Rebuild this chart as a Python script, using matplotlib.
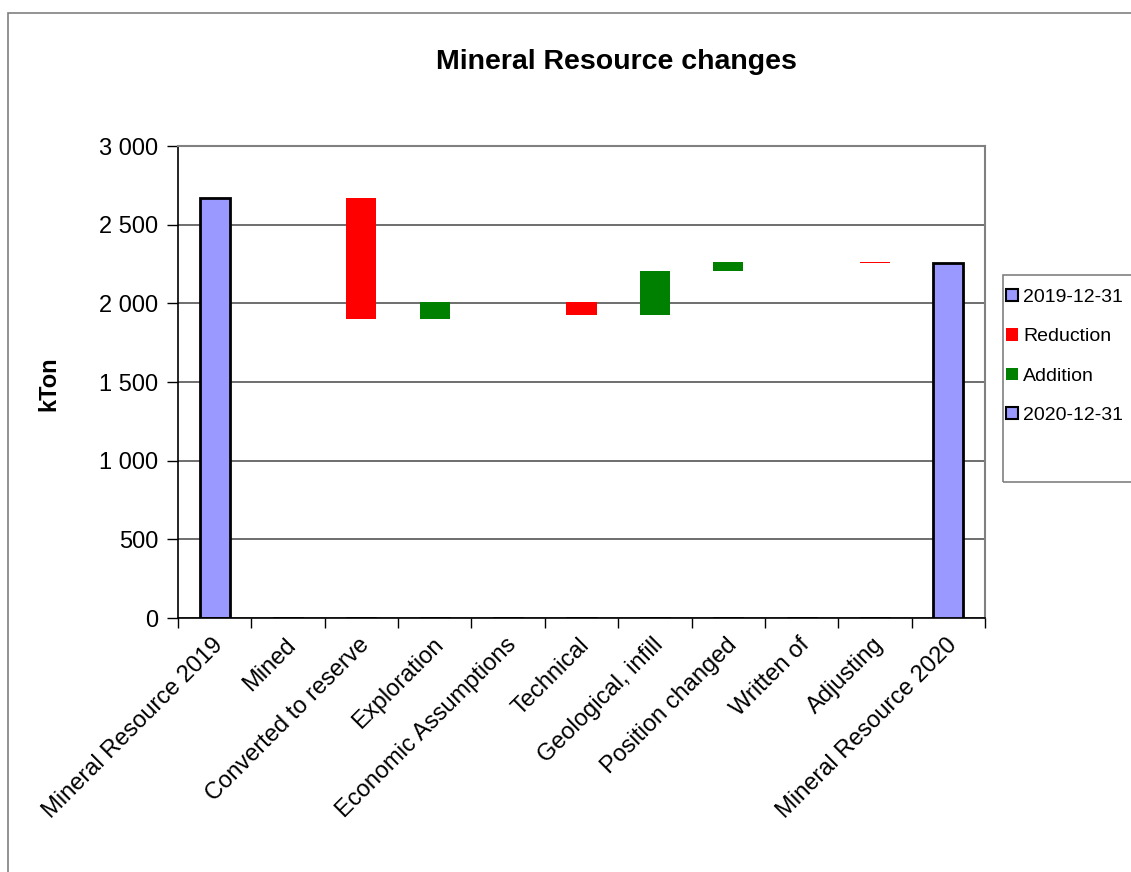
import numpy as np
import matplotlib.pyplot as plt
import matplotlib.transforms as mtransforms
from matplotlib.patches import Rectangle, Patch
from matplotlib.ticker import FuncFormatter, FixedLocator

plt.rcParams['font.family'] = ['Liberation Sans', 'DejaVu Sans']

categories = ['Mineral Resource 2019', 'Mined', 'Converted to reserve', 'Exploration',
              'Economic Assumptions', 'Technical', 'Geological, infill', 'Position changed',
              'Written of', 'Adjusting', 'Mineral Resource 2020']
start = [2670, 0, 0, 0, 0, 0, 0, 0, 0, 0, 0]
reduction = [0, 0, 770, 0, 0, 84, 0, 0, 0, 2, 0]
addition = [0, 0, 0, 108, 0, 0, 281, 56, 0, 0, 0]
end = [0, 0, 0, 0, 0, 0, 0, 0, 0, 0, 2259]

start = np.array(start); reduction = np.array(reduction)
addition = np.array(addition); end = np.array(end)

# invisible base of the waterfall: running total
total = start[0] + np.cumsum(addition - reduction)
base = np.zeros(len(categories))
base[1:-1] = np.where(reduction[1:-1] > 0, total[1:-1], total[1:-1] - addition[1:-1])

W, H = 1131, 872
fig = plt.figure(figsize=(W / 100, H / 100), dpi=100)
fig.patches.append(Rectangle((8 / W, -0.1), 1.2, 1 - 13 / H + 0.1, transform=fig.transFigure,
                             fill=False, edgecolor='#808080', linewidth=1.2))

ax = fig.add_axes([178 / W, 1 - 618 / H, 807 / W, 472 / H])
x = np.arange(len(categories))
bw = 0.41
ax.bar(x, start, width=bw, color='#9999FF', edgecolor='black', linewidth=2, zorder=3)
ax.bar(x, reduction, bottom=base, width=bw, color='#FF0000', zorder=3)
ax.bar(x, addition, bottom=base, width=bw, color='#008000', zorder=3)
ax.bar(x, end, width=bw, color='#9999FF', edgecolor='black', linewidth=2, zorder=3)

ax.set_xlim(-0.5, len(categories) - 0.5)
ax.set_ylim(0, 3000)
ax.set_yticks(np.arange(0, 3001, 500))
ax.yaxis.set_major_formatter(FuncFormatter(lambda v, p: '{:,.0f}'.format(v).replace(',', ' ')))
ax.yaxis.grid(True, color='#555555', linewidth=1.2, zorder=0)
ax.tick_params(axis='y', labelsize=17, length=8, width=1, direction='out', pad=6)

ax.set_xticks(x)
ax.set_xticklabels(categories, rotation=45, ha='right', va='center', rotation_mode='anchor', fontsize=17)
ax.tick_params(axis='x', which='major', length=0, pad=17)
shift = mtransforms.ScaledTranslation(5 / 100, 0, fig.dpi_scale_trans)
for lbl in ax.get_xticklabels():
    lbl.set_transform(lbl.get_transform() + shift)
ax.xaxis.set_minor_locator(FixedLocator(np.arange(-0.5, len(categories), 1)))
ax.tick_params(axis='x', which='minor', length=7, width=1, direction='out')

for s in ['top', 'right']:
    ax.spines[s].set_color('#808080')
    ax.spines[s].set_linewidth(1.5)
for s in ['left', 'bottom']:
    ax.spines[s].set_color('black')
    ax.spines[s].set_linewidth(1.2)

fig.text(49 / W, 1 - 384 / H, 'kTon', fontsize=17, fontweight='bold', rotation=90,
         ha='center', va='center')
fig.text(616 / W, 1 - 62 / H, 'Mineral Resource changes', fontsize=20.5, fontweight='bold',
         ha='center', va='center')

# legend box
fig.patches.append(Rectangle((1003 / W, 1 - 482 / H), 0.2, 207 / H, transform=fig.transFigure,
                             fill=False, edgecolor='#808080', linewidth=1.2))
handles = [Patch(facecolor='#9999FF', edgecolor='black', linewidth=1.5, label='2019-12-31'),
           Patch(facecolor='#FF0000', label='Reduction'),
           Patch(facecolor='#008000', label='Addition'),
           Patch(facecolor='#9999FF', edgecolor='black', linewidth=1.5, label='2020-12-31')]
fig.legend(handles=handles, loc='upper left', bbox_to_anchor=(1002 / W, 1 - 285 / H),
           frameon=False, fontsize=14, handlelength=0.6, handleheight=0.6,
           handletextpad=0.3, labelspacing=1.15, borderaxespad=0, borderpad=0.2)

fig.savefig('out.png', dpi=100)
